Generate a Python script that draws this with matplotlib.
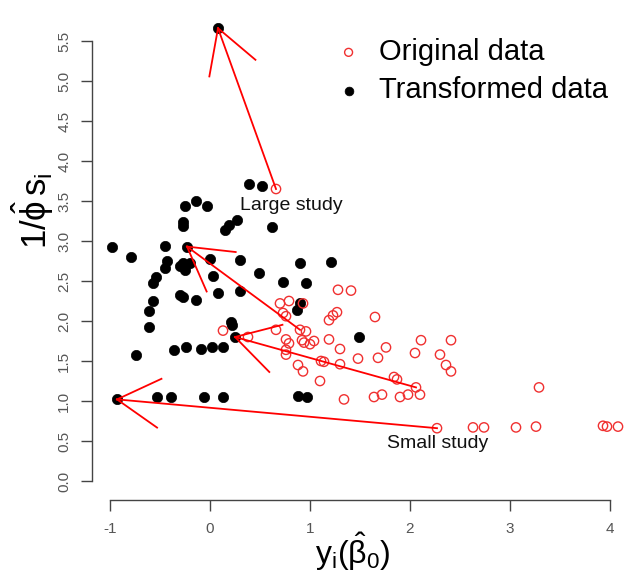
import numpy as np
import matplotlib
matplotlib.use("Agg")
import matplotlib.pyplot as plt

plt.rcParams['font.family'] = ['Liberation Sans', 'DejaVu Sans']
plt.rcParams['mathtext.fontset'] = 'custom'
plt.rcParams['mathtext.rm'] = 'Liberation Sans'
plt.rcParams['mathtext.it'] = 'Liberation Sans'
plt.rcParams['mathtext.bf'] = 'Liberation Sans:bold'

# original studies (open red circles)
orig_x = [0.66, 1.28, 1.41, 0.70, 0.79, 0.93, 0.73, 0.76, 1.19, 1.23,
          1.27, 1.65, 0.13, 0.38, 0.66, 0.90, 0.96, 0.76, 0.79, 0.76,
          0.76, 0.92, 0.94, 1.00, 1.04, 1.19, 1.30, 1.76, 2.11, 2.41,
          1.11, 1.14, 1.30, 1.48, 1.68, 2.05, 2.30, 0.88, 0.93, 2.36,
          2.41, 1.10, 1.84, 1.87, 2.06, 1.34, 1.64, 1.72, 1.90, 1.98,
          2.10, 3.29, 2.27, 2.63, 2.74, 3.06, 3.26, 3.93, 3.97, 4.08]
orig_y = [3.65, 2.39, 2.38, 2.22, 2.25, 2.22, 2.10, 2.06, 2.01, 2.07,
          2.11, 2.05, 1.88, 1.80, 1.89, 1.89, 1.87, 1.77, 1.72, 1.64,
          1.58, 1.76, 1.73, 1.71, 1.75, 1.77, 1.65, 1.67, 1.76, 1.76,
          1.50, 1.49, 1.46, 1.53, 1.54, 1.60, 1.58, 1.45, 1.37, 1.45,
          1.37, 1.25, 1.30, 1.27, 1.17, 1.02, 1.05, 1.08, 1.05, 1.08,
          1.08, 1.17, 0.66, 0.67, 0.67, 0.67, 0.68, 0.69, 0.68, 0.68]

# transformed studies (filled black dots)
trans_x = [0.08, 0.39, 0.52, -0.25, -0.14, -0.03, -0.27, -0.27, 0.15, 0.19,
           0.27, 0.62, -0.98, -0.79, -0.45, -0.23, -0.43, -0.45, -0.30, -0.25,
           -0.20, -0.27, 0.00, 0.30, 0.03, 0.49, 0.90, 1.21, 0.73, 0.96,
           -0.54, -0.57, -0.57, -0.61, -0.61, -0.30, -0.27, -0.14, 0.08, 0.30,
           0.90, 0.87, 0.21, 0.22, 0.25, 1.49, -0.74, -0.36, -0.24, -0.09,
           0.02, 0.13, -0.93, -0.53, -0.39, -0.06, 0.13, 0.88, 0.97]
trans_y = [5.66, 3.71, 3.69, 3.44, 3.50, 3.44, 3.24, 3.19, 3.14, 3.20,
           3.26, 3.18, 2.92, 2.80, 2.94, 2.93, 2.75, 2.66, 2.69, 2.64,
           2.72, 2.72, 2.77, 2.76, 2.56, 2.60, 2.72, 2.74, 2.49, 2.47,
           2.55, 2.47, 2.25, 2.13, 1.93, 2.33, 2.30, 2.26, 2.35, 2.38,
           2.23, 2.14, 1.99, 1.95, 1.80, 1.80, 1.58, 1.64, 1.67, 1.65,
           1.67, 1.68, 1.02, 1.05, 1.05, 1.05, 1.05, 1.06, 1.05]

# arrows: (original point) -> (transformed point)
arrow_from = [(0.66, 3.65), (2.27, 0.66), (2.06, 1.17), (0.90, 1.89)]
arrow_to = [(0.08, 5.66), (-0.93, 1.02), (0.25, 1.80), (-0.23, 2.93)]

x_ticks = [-1, 0, 1, 2, 3, 4]
y_ticks = [0.0, 0.5, 1.0, 1.5, 2.0, 2.5, 3.0, 3.5, 4.0, 4.5, 5.0, 5.5]

fig = plt.figure(figsize=(6.38, 5.74), dpi=100)
ax = fig.add_axes([92 / 638, 74 / 574, 538 / 638, 491 / 574])
ax.set_xlim(-1.18, 4.2)
ax.set_ylim(-0.2375, 5.9)

ax.scatter(trans_x, trans_y, s=55, c='black', edgecolors='black', linewidths=0.5,
           zorder=2, label='Transformed data')
ax.scatter(orig_x, orig_y, s=45, facecolors='none', edgecolors='#f03030', linewidths=1.0,
           zorder=3, label='Original data')

# arrows in the style of R's arrows(): two short head lines at 30 degrees
head_px = 49
ang = np.deg2rad(30)
inv = ax.transData.inverted()
for (x0, y0), (x1, y1) in zip(arrow_from, arrow_to):
    ax.plot([x0, x1], [y0, y1], color='red', lw=1.3, zorder=4)
    p0 = ax.transData.transform((x0, y0))
    p1 = ax.transData.transform((x1, y1))
    d = p0 - p1
    th = np.arctan2(d[1], d[0])
    for s in (ang, -ang):
        q = p1 + head_px * np.array([np.cos(th + s), np.sin(th + s)])
        hx, hy = inv.transform(q)
        ax.plot([x1, hx], [y1, hy], color='red', lw=1.3, zorder=4)

ax.text(0.81, 3.45, 'Large study', fontsize=14, ha='center', va='center', color='#111111')
ax.text(2.28, 0.47, 'Small study', fontsize=14, ha='center', va='center', color='#111111')

# R-like detached axes
for side in ('top', 'right'):
    ax.spines[side].set_visible(False)
ax.spines['left'].set_bounds(0, 5.5)
ax.spines['bottom'].set_bounds(-1, 4)
for side in ('left', 'bottom'):
    ax.spines[side].set_color('#444444')
    ax.spines[side].set_linewidth(1.0)

ax.set_xticks(x_ticks)
ax.set_xticklabels([str(t) for t in x_ticks])
ax.set_yticks(y_ticks)
ax.set_yticklabels(['%.1f' % t for t in y_ticks], rotation=90, va='center')
ax.tick_params(axis='both', length=8, width=1.0, color='#444444',
               labelcolor='#555555', labelsize=11)
ax.tick_params(axis='x', pad=8)
ax.tick_params(axis='y', pad=7)

ax.set_xlabel(r'$\mathregular{y_i(\hat{\beta}_0)}$', fontsize=23)
ax.xaxis.set_label_coords(0.485, -0.063)
ax.set_ylabel(r'$\mathregular{1/\hat{\phi}\,s_i}$', fontsize=25)
ax.yaxis.set_label_coords(-0.066, 0.589)

handles, labels = ax.get_legend_handles_labels()
leg = ax.legend(handles[::-1], labels[::-1], loc='upper left',
                bbox_to_anchor=(334 / 638, 1 - 38 / 574), bbox_transform=fig.transFigure,
                frameon=False, fontsize=21, handlelength=1.0, handletextpad=0.55,
                borderpad=0, borderaxespad=0, labelspacing=0.36, markerscale=0.85)

fig.savefig('out.png', dpi=100)
